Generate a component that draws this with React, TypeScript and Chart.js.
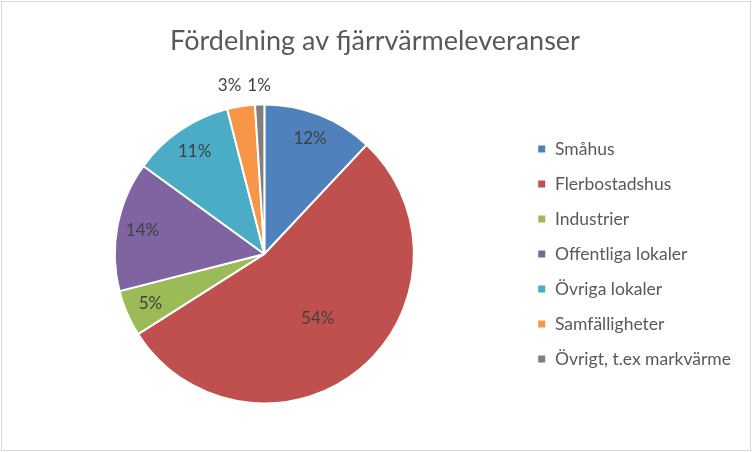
import React, { useEffect, useRef } from "react";
import { Chart, registerables } from "chart.js";

Chart.register(...registerables);

const titleText = "Fördelning av fjärrvärmeleveranser";
const categories = [
  "Småhus",
  "Flerbostadshus",
  "Industrier",
  "Offentliga lokaler",
  "Övriga lokaler",
  "Samfälligheter",
  "Övrigt, t.ex markvärme",
];
const shares = [12, 54, 5, 14, 11, 3, 1];
const colors = ["#4F81BD", "#C0504D", "#9BBB59", "#8064A2", "#4BACC6", "#F79646", "#7F7F7F"];

const FONT = "Lato, 'Open Sans', sans-serif";

const borderPlugin = {
  id: "frameBorder",
  beforeDraw(chart: any) {
    const { ctx, width, height } = chart;
    ctx.save();
    ctx.fillStyle = "#ffffff";
    ctx.fillRect(0, 0, width, height);
    ctx.strokeStyle = "#D9D9D9";
    ctx.lineWidth = 1;
    ctx.strokeRect(1.5, 1.5, width - 3, height - 3);
    ctx.restore();
  },
};

const pieLabels = {
  id: "pieLabels",
  afterDatasetsDraw(chart: any) {
    const ctx = chart.ctx;
    const meta = chart.getDatasetMeta(0);
    const data: number[] = chart.data.datasets[0].data;
    const total = data.reduce((a, b) => a + b, 0);
    ctx.save();
    ctx.font = `17px ${FONT}`;
    ctx.fillStyle = "#404040";
    ctx.textAlign = "center";
    ctx.textBaseline = "middle";
    const items: { text: string; x: number; y: number; w: number; outside: boolean }[] = [];
    meta.data.forEach((arc: any, i: number) => {
      const p = arc.getProps(["x", "y", "startAngle", "endAngle", "outerRadius"], true);
      const pct = (data[i] / total) * 100;
      const mid = (p.startAngle + p.endAngle) / 2;
      const outside = pct < 4;
      let r: number;
      if (outside) r = p.outerRadius + 20;
      else if (pct > 50) r = p.outerRadius * 0.56;
      else r = p.outerRadius * 0.83;
      const text = Math.round(pct) + "%";
      items.push({
        text,
        x: p.x + Math.cos(mid) * r,
        y: p.y + Math.sin(mid) * r,
        w: ctx.measureText(text).width,
        outside,
      });
    });
    for (let i = items.length - 1; i > 0; i--) {
      const a = items[i - 1];
      const b = items[i];
      if (a.outside && b.outside) {
        const need = a.w / 2 + b.w / 2 + 6;
        if (b.x - a.x < need) a.x = b.x - need;
        a.y = b.y = Math.min(a.y, b.y) + 1;
      }
    }
    items.forEach((it) => ctx.fillText(it.text, it.x, it.y));
    ctx.restore();
  },
};

export default function App() {
  const ref = useRef<HTMLCanvasElement | null>(null);
  useEffect(() => {
    if (!ref.current) return;
    const chart = new Chart(ref.current, {
      type: "pie",
      data: {
        labels: categories,
        datasets: [
          {
            data: shares,
            backgroundColor: colors,
            borderColor: "#ffffff",
            borderWidth: 2,
          },
        ],
      },
      options: {
        responsive: false,
        animation: false,
        layout: { padding: { top: 0, left: 9, right: 11, bottom: 47.5 } },
        plugins: {
          title: {
            display: true,
            text: titleText,
            color: "#595959",
            font: { family: FONT, size: 27, weight: "normal" },
            padding: { top: 25, bottom: 46 },
          },
          legend: {
            position: "right",
            align: "center",
            fullSize: false,
            labels: {
              boxWidth: 9,
              boxHeight: 9,
              padding: 17.5,
              color: "#595959",
              font: { family: FONT, size: 17.5 },
            },
          },
          tooltip: { enabled: false },
        },
      },
      plugins: [borderPlugin, pieLabels],
    } as any);
    return () => chart.destroy();
  }, []);
  return (
    <div style={{ position: "fixed", left: 0, top: 0, width: 752, height: 452 }}>
      <canvas ref={ref} width={752} height={452} style={{ display: "block" }} />
    </div>
  );
}
